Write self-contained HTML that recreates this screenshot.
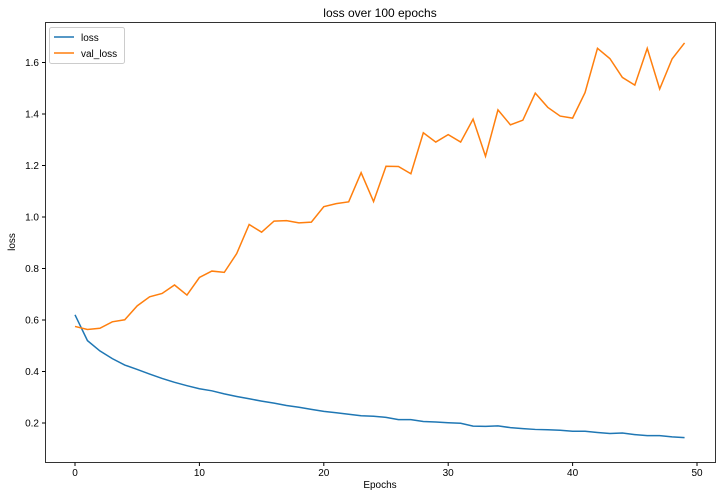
<!DOCTYPE html>
<html><head><meta charset="utf-8"><style>
body{margin:0;background:#fff;width:720px;height:496px;overflow:hidden}
text{font-family:"Liberation Sans","DejaVu Sans",sans-serif;fill:#000}
</style></head><body>
<svg id="chart" width="720" height="496" xmlns="http://www.w3.org/2000/svg">
<text x="380" y="17" font-size="12" text-anchor="middle">loss over 100 epochs</text>
<g id="axes"></g>
<g id="series"></g>
<rect x="45.5" y="22.5" width="670" height="440" fill="none" stroke="#000" stroke-width="0.8"/>
<text x="380" y="488" font-size="10" text-anchor="middle">Epochs</text>
<text transform="translate(15,242) rotate(-90)" font-size="10" text-anchor="middle">loss</text>
<g>
<rect x="49.5" y="27.5" width="75" height="36" fill="#fff" stroke="#ccc" rx="2"/>
<line x1="54" y1="37" x2="74" y2="37" stroke="#1f77b4" stroke-width="1.5"/>
<text x="81" y="41" font-size="10">loss</text>
<line x1="54" y1="53" x2="74" y2="53" stroke="#ff7f0e" stroke-width="1.5"/>
<text x="81" y="57" font-size="10">val_loss</text>
</g>
</svg>
<script>
const xTicks=[0,10,20,30,40,50];
const yTicks=[0.2,0.4,0.6,0.8,1.0,1.2,1.4,1.6];
const lossValues=[.62,.52,.48,.45,.425,.408,.39,.373,.358,.345,.333,.325,.313,.303,.294,.285,.277,.268,.261,.253,.245,.240,.234,.228,.226,.222,.213,.213,.206,.204,.201,.199,.188,.187,.189,.182,.178,.175,.174,.172,.168,.168,.163,.159,.161,.155,.151,.151,.146,.143];
const valLossValues=[.575,.563,.568,.593,.601,.655,.690,.703,.736,.697,.765,.790,.785,.858,.971,.941,.984,.986,.977,.980,1.040,1.052,1.059,1.172,1.060,1.197,1.196,1.168,1.327,1.291,1.320,1.291,1.380,1.236,1.416,1.358,1.376,1.481,1.426,1.392,1.384,1.483,1.655,1.615,1.542,1.512,1.655,1.497,1.614,1.676];
const NS="http://www.w3.org/2000/svg";
function xs(v){return 75+v*12.44;}
function ys(v){return 423-(v-0.2)*257.5;}
const axes=document.getElementById('axes');
xTicks.forEach(t=>{
  const l=document.createElementNS(NS,'line');
  
  
  l.setAttribute('x1',xs(t));l.setAttribute('x2',xs(t));l.setAttribute('y1',462.5);l.setAttribute('y2',466);l.setAttribute('stroke','#000');
  axes.appendChild(l);
  const tx=document.createElementNS(NS,'text');
  
  
  tx.setAttribute('x',xs(t));tx.setAttribute('y',476);tx.setAttribute('font-size','10');tx.setAttribute('text-anchor','middle');
  tx.textContent=t;axes.appendChild(tx);
});
yTicks.forEach(t=>{
  const l=document.createElementNS(NS,'line');
  
  
  l.setAttribute('x1',42);l.setAttribute('x2',45.5);l.setAttribute('y1',ys(t));l.setAttribute('y2',ys(t));l.setAttribute('stroke','#000');
  axes.appendChild(l);
  const tx=document.createElementNS(NS,'text');
  
  
  tx.setAttribute('x',39);tx.setAttribute('y',ys(t)+3.5);tx.setAttribute('font-size','10');tx.setAttribute('text-anchor','end');
  tx.textContent=t.toFixed(1);axes.appendChild(tx);
});
const series=document.getElementById('series');
function drawLine(vals,color,name){
  const p=document.createElementNS(NS,'polyline');
  
  
  p.setAttribute('points',vals.map((v,i)=>xs(i)+','+ys(v)).join(' '));
  p.setAttribute('fill','none');p.setAttribute('stroke',color);p.setAttribute('stroke-width','1.5');
  series.appendChild(p);
}
drawLine(lossValues,'#1f77b4','loss-line');
drawLine(valLossValues,'#ff7f0e','val-loss-line');
</script>
</body></html>
